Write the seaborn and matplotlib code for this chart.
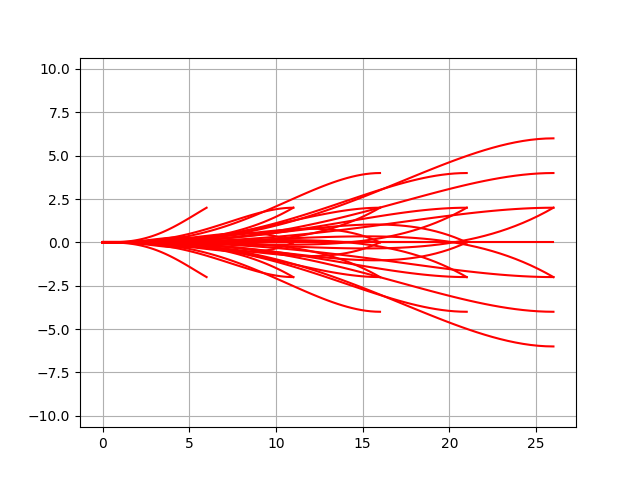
import numpy as np
import pandas as pd
import seaborn as sns
import matplotlib
matplotlib.use("Agg")
import matplotlib.pyplot as plt

# terminal states of the lattice (x, y, yaw in degrees), start is (0, 0, 0)
end_x = [6, 6, 6, 6, 6,
         11, 11, 11, 11, 11, 11, 11,
         16, 16, 16, 16, 16, 16, 16, 16, 16,
         21, 21, 21, 21, 21, 21, 21, 21, 21,
         26, 26, 26, 26, 26, 26, 26, 26, 26]
end_y = [2, 0, 0, 0, -2,
         2, 2, 0, 0, 0, -2, -2,
         4, 2, 2, 0, 0, 0, -2, -2, -4,
         4, 2, 2, 0, 0, 0, -2, -2, -4,
         6, 4, 2, 2, 0, -2, -2, -4, -6]
end_yaw = [30, 25, 0, -25, -30,
           0, 30, 25, 0, -25, 0, -30,
           0, 0, 30, 25, 0, -25, 0, -30, 0,
           0, 0, 30, 25, 0, -25, 0, -30, 0,
           0, 0, 0, 30, 0, 0, -30, 0, 0]

# curvature starts at zero, so each path is y = a*t^3 + b*t^4 along x
rows = []
for i, (xe, ye, yaw) in enumerate(zip(end_x, end_y, end_yaw)):
    m = np.tan(np.deg2rad(yaw))
    b = m * xe - 3 * ye
    a = ye - b
    t = np.linspace(0, 1, 60)
    for ti in t:
        rows.append({"path": i, "x": ti * xe, "y": a * ti**3 + b * ti**4})
df = pd.DataFrame(rows)

fig, ax = plt.subplots(figsize=(6.4, 4.8), dpi=100)
sns.lineplot(data=df, x="x", y="y", units="path", estimator=None,
             sort=False, color="r", linewidth=1.5, ax=ax)
ax.set_xlabel("")
ax.set_ylabel("")
ax.grid(True)
ax.axis("equal")
plt.savefig("out.png")
